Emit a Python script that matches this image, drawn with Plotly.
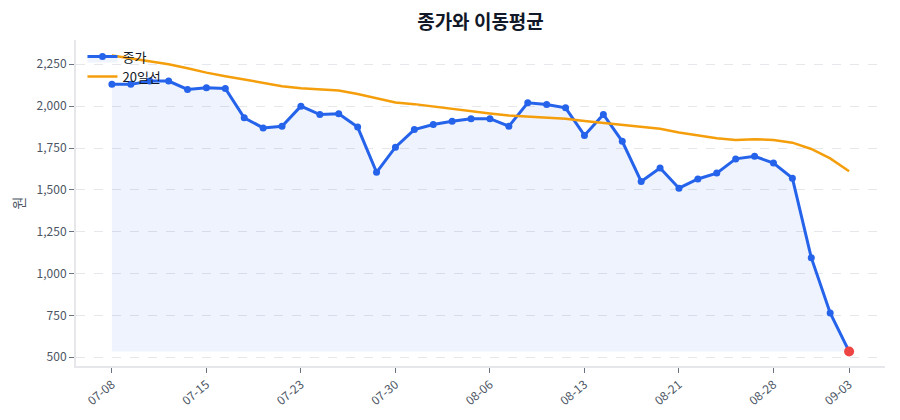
import plotly.graph_objects as go

# 거래일 (40일)
dates = ['07-08', '07-09', '07-10', '07-11', '07-14', '07-15', '07-16', '07-18', '07-21', '07-22',
         '07-23', '07-24', '07-25', '07-28', '07-29', '07-30', '07-31', '08-01', '08-04', '08-05',
         '08-06', '08-07', '08-08', '08-11', '08-12', '08-13', '08-14', '08-18', '08-19', '08-20',
         '08-21', '08-22', '08-25', '08-26', '08-27', '08-28', '08-29', '09-01', '09-02', '09-03']

close = [2130, 2130, 2150, 2150, 2100, 2110, 2105, 1930, 1870, 1880,
         2000, 1950, 1955, 1875, 1605, 1755, 1860, 1890, 1910, 1925,
         1925, 1880, 2020, 2010, 1990, 1825, 1950, 1790, 1550, 1630,
         1510, 1565, 1600, 1685, 1700, 1660, 1570, 1095, 765, 535]

ma20 = [2302, 2286, 2270, 2250, 2226, 2200, 2179, 2159, 2137, 2119,
        2107, 2099, 2093, 2073, 2046, 2022, 2012, 1998, 1980, 1968,
        1956, 1944, 1937, 1931, 1925, 1911, 1899, 1891, 1879, 1865,
        1843, 1825, 1808, 1798, 1802, 1798, 1782, 1744, 1688, 1611]

tick_idx = [0, 5, 10, 15, 20, 25, 30, 35, 39]

x = list(range(len(close)))
base = min(close)

fig = go.Figure()

# 채우기 기준선 (최저가)
fig.add_trace(go.Scatter(x=x, y=[base] * len(x), mode='lines',
                         line=dict(width=0, color='rgba(0,0,0,0)'),
                         showlegend=False, hoverinfo='skip'))

fig.add_trace(go.Scatter(x=x, y=close, mode='lines+markers', name='종가',
                         fill='tonexty', fillcolor='rgba(37,99,235,0.08)',
                         line=dict(color='#2563eb', width=3),
                         marker=dict(color='#2563eb', size=7)))

fig.add_trace(go.Scatter(x=x, y=ma20, mode='lines', name='20일선',
                         line=dict(color='#f59e0b', width=2.5)))

# 마지막 종가 강조
fig.add_trace(go.Scatter(x=[x[-1]], y=[close[-1]], mode='markers',
                         marker=dict(color='#ef4444', size=10),
                         showlegend=False))

fig.update_layout(
    width=900, height=420,
    margin=dict(l=68, r=23, t=32, b=62),
    paper_bgcolor='white', plot_bgcolor='white',
    font=dict(family='Noto Sans CJK KR', size=12, color='#4b5563'),
    title=dict(text='<b>종가와 이동평균</b>', xref='paper', x=0.5, xanchor='center',
               yref='container', y=0.965, yanchor='middle',
               font=dict(size=19, color='#111827')),
    legend=dict(x=0.008, y=0.995, xanchor='left', yanchor='top', traceorder='normal',
                bgcolor='rgba(0,0,0,0)', font=dict(size=13, color='#111827'),
                tracegroupgap=2),
    showlegend=True,
)

fig.update_xaxes(
    range=[-1.9, 40.9], automargin=False,
    tickvals=tick_idx, ticktext=[dates[i] for i in tick_idx],
    tickangle=-40, ticks='outside', ticklen=5, tickcolor='#6b7280',
    showgrid=False, showline=True, linecolor='#e5e7eb', linewidth=2,
    zeroline=False,
)
fig.update_yaxes(
    range=[448, 2395], automargin=False,
    tickvals=[500, 750, 1000, 1250, 1500, 1750, 2000, 2250],
    tickformat=',', ticks='outside', ticklen=5, tickcolor='#6b7280',
    showgrid=True, gridcolor='#e5e7eb', griddash='dash', gridwidth=1,
    showline=True, linecolor='#e5e7eb', linewidth=2, zeroline=False,
    title=dict(text='원', standoff=14),
)

fig.write_html("out.html")
